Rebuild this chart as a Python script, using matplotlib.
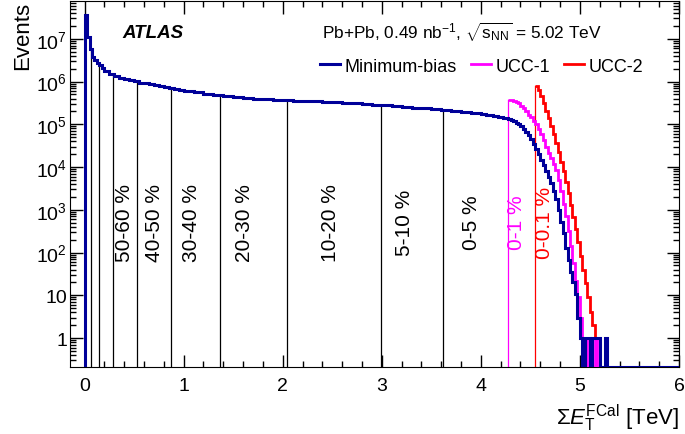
import numpy as np
import matplotlib
matplotlib.use("Agg")
import matplotlib.pyplot as plt
from matplotlib.ticker import LogLocator, NullFormatter, FuncFormatter, MultipleLocator

plt.rcParams['font.family'] = ['Liberation Sans', 'DejaVu Sans']
plt.rcParams['mathtext.fontset'] = 'custom'
plt.rcParams['mathtext.rm'] = 'Liberation Sans'
plt.rcParams['mathtext.it'] = 'Liberation Sans:italic'
plt.rcParams['mathtext.bf'] = 'Liberation Sans:bold'

# minimum-bias histogram: fine bins at low ET, coarser in the plateau, fine in the tail
mb_edges = np.round(np.concatenate([
    np.arange(0.0, 0.2, 0.025),
    np.arange(0.2, 1.0, 0.05),
    np.arange(1.0, 4.0, 0.1),
    np.arange(4.0, 5.3, 0.025),
    [5.3, 6.0],
]), 4)
mb_counts = [
    # 0 - 0.2
    3.6e7, 1.1e7, 5.8e6, 3.7e6, 3.2e6, 2.75e6, 2.4e6, 2.1e6,
    # 0.2 - 1.0
    1.82e6, 1.51e6, 1.35e6, 1.23e6, 1.15e6, 1.07e6, 1.01e6, 9.5e5,
    9.1e5, 8.7e5, 8.2e5, 7.8e5, 7.4e5, 7.1e5, 6.8e5, 6.5e5,
    # 1.0 - 4.0
    6.0e5, 5.6e5, 5.2e5, 4.9e5, 4.7e5, 4.4e5, 4.2e5, 4.0e5, 3.9e5, 3.8e5,
    3.7e5, 3.6e5, 3.55e5, 3.45e5, 3.4e5, 3.3e5, 3.15e5, 3.1e5, 3.0e5, 2.9e5,
    2.8e5, 2.7e5, 2.6e5, 2.45e5, 2.35e5, 2.25e5, 2.15e5, 2.05e5, 1.95e5, 1.85e5,
    # 4.0 - 5.3
    1.78e5, 1.74e5, 1.70e5, 1.66e5, 1.62e5, 1.58e5, 1.55e5, 1.51e5, 1.48e5, 1.44e5,
    1.38e5, 1.32e5, 1.26e5, 1.17e5, 1.10e5, 1.0e5, 9.1e4, 7.9e4, 6.8e4, 5.6e4,
    4.5e4, 3.5e4, 2.6e4, 2.0e4, 1.48e4, 1.12e4, 7.9e3, 5.8e3, 4.2e3, 2.8e3,
    1800, 1000, 520, 280, 130, 66, 35, 21, 11, 3,
    1, 0, 1, 1, 0, 1, 1, 1, 0, 0, 1, 0,
    # 5.3 - 6.0
    0,
]

# UCC-1 trigger (0.025 TeV bins)
ucc1_start = 4.275
ucc1_counts = [
    3.8e5, 3.7e5, 3.55e5, 3.3e5, 3.1e5, 2.7e5, 2.35e5, 2.0e5, 1.7e5, 1.45e5,
    1.23e5, 1.02e5, 7.9e4, 5.8e4, 4.2e4, 2.95e4, 2.1e4, 1.6e4, 1.2e4, 8.7e3,
    5.0e3, 2.8e3, 1.4e3, 710, 320, 140, 56, 22, 9, 3,
    1, 1, 0, 1, 0, 1, 0,
]

# UCC-2 trigger
ucc2_start = 4.55
ucc2_counts = [
    7.9e5, 6.3e5, 4.6e5, 3.2e5, 2.1e5, 1.38e5, 9.1e4, 5.8e4, 3.6e4, 2.2e4,
    1.35e4, 7.9e3, 4.6e3, 2.5e3, 1.3e3, 690, 355, 178, 83, 40,
    19, 9, 4, 2, 1, 1, 0,
]

# centrality boundaries (TeV) and labels
cent_cuts = [0.064, 0.144, 0.290, 0.525, 0.876, 1.372, 2.046, 2.989, 3.620]
cent_labels = ['50-60 %', '40-50 %', '30-40 %', '20-30 %', '10-20 %', '5-10 %', '0-5 %']
cent_label_x = [0.40, 0.71, 1.075, 1.61, 2.48, 3.23, 3.91]

ymin, ymax = 0.21, 7.7e7
c_mb, c_u1, c_u2 = '#000099', '#ff00ff', '#ff0000'

fig = plt.figure(figsize=(6.85, 4.35), dpi=100)
ax = fig.add_axes([70/685, 67/435, 609/685, 366/435])
ax.set_yscale('log')
ax.set_xlim(-0.147, 6.0)
ax.set_ylim(ymin, ymax)

mb = np.maximum(np.array(mb_counts, float), ymin)
u1 = np.maximum(np.array(ucc1_counts, float), ymin)
u2 = np.maximum(np.array(ucc2_counts, float), ymin)
u1_edges = ucc1_start + 0.025 * np.arange(len(u1) + 1)
u2_edges = ucc2_start + 0.025 * np.arange(len(u2) + 1)

# centrality lines up to the curve
for xc in cent_cuts:
    i = np.searchsorted(mb_edges, xc) - 1
    ax.plot([xc, xc], [ymin, mb[i]], color='black', lw=0.9, zorder=2)
ax.plot([ucc1_start, ucc1_start], [ymin, u1[0]], color=c_u1, lw=0.9, zorder=2)
ax.plot([ucc2_start, ucc2_start], [ymin, u2[0]], color=c_u2, lw=0.9, zorder=2)

ax.stairs(u1, u1_edges, baseline=None, color=c_u1, lw=2.0, zorder=3, label='UCC-1')
ax.stairs(u2, u2_edges, baseline=None, color=c_u2, lw=2.0, zorder=4, label='UCC-2')
ax.stairs(mb, mb_edges, baseline=ymin, color=c_mb, lw=2.2, zorder=5, label='Minimum-bias')

for lab, xl in zip(cent_labels, cent_label_x):
    ax.text(xl, 0.397, lab, transform=ax.get_xaxis_transform(), rotation=90,
            ha='center', va='center', fontsize=15)
ax.text(4.36, 0.397, '0-1 %', transform=ax.get_xaxis_transform(), rotation=90,
        ha='center', va='center', fontsize=15, color=c_u1)
ax.text(4.64, 0.397, '0-0.1 %', transform=ax.get_xaxis_transform(), rotation=90,
        ha='center', va='center', fontsize=15, color=c_u2)

ax.text(0.086, 0.915, 'ATLAS', transform=ax.transAxes, fontsize=13.5,
        fontweight='bold', fontstyle='italic', va='center')
ax.text(0.413, 0.918, r'Pb+Pb, 0.49 nb$^{-1}$, $\sqrt{\mathrm{s}_{\mathrm{NN}}}$ = 5.02 TeV',
        transform=ax.transAxes, fontsize=12.4, va='center')

h, l = ax.get_legend_handles_labels()
order = [2, 0, 1]
ax.legend([h[i] for i in order], [l[i] for i in order], ncol=3, frameon=False,
          loc='center left', bbox_to_anchor=(0.41, 0.822), fontsize=13,
          handlelength=1.1, handletextpad=0.25, columnspacing=0.8,
          borderpad=0, borderaxespad=0)

def ylab(v, pos):
    n = int(round(np.log10(v)))
    if n == 0:
        return '1'
    if n == 1:
        return '10'
    return r'$10^{%d}$' % n

ax.yaxis.set_major_locator(LogLocator(base=10, numticks=20))
ax.yaxis.set_minor_locator(LogLocator(base=10, subs=np.arange(2, 10), numticks=50))
ax.yaxis.set_major_formatter(FuncFormatter(ylab))
ax.yaxis.set_minor_formatter(NullFormatter())
ax.xaxis.set_major_locator(MultipleLocator(1))
ax.xaxis.set_minor_locator(MultipleLocator(0.2))

ax.tick_params(which='both', direction='in', top=True, right=True, labelsize=14, width=1)
ax.tick_params(which='major', length=9)
ax.tick_params(which='minor', length=4.5)
ax.tick_params(axis='x', pad=7)
ax.tick_params(axis='y', pad=2)

ax.set_xlabel(r'$\Sigma E_{\mathrm{T}}^{\mathrm{FCal}}$ [TeV]', fontsize=16, loc='right', labelpad=6)
ax.set_ylabel('Events', fontsize=16, loc='top', labelpad=2)

fig.savefig('out.png', dpi=100)
